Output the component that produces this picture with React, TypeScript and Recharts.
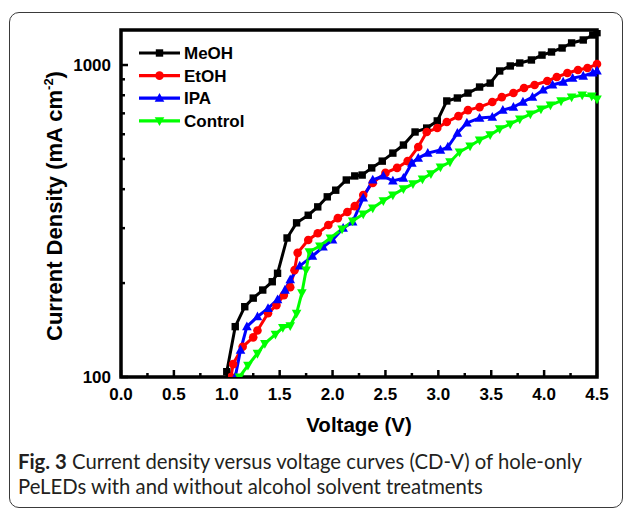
import React from 'react';
import { LineChart, Line, XAxis, YAxis, Legend, ReferenceArea, Customized } from 'recharts';

// ---------- data ----------
const meohV = [1.0, 1.08, 1.17, 1.25, 1.34, 1.43, 1.48, 1.57, 1.66, 1.77, 1.86, 1.95, 2.03, 2.13, 2.21, 2.28, 2.37, 2.47, 2.57, 2.67, 2.78, 2.89, 2.99, 3.08, 3.18, 3.28, 3.39, 3.49, 3.58, 3.68, 3.77, 3.88, 3.98, 4.07, 4.17, 4.26, 4.37, 4.46, 4.5];
const meohJ = [104, 145, 168, 179, 190, 202, 215, 279, 312, 330, 351, 378, 397, 428, 441, 444, 468, 492, 522, 554, 610, 628, 662, 767, 784, 813, 850, 875, 957, 993, 1015, 1038, 1076, 1101, 1134, 1177, 1203, 1248, 1270];

const etohV = [1.04, 1.06, 1.15, 1.25, 1.29, 1.39, 1.47, 1.54, 1.6, 1.64, 1.67, 1.77, 1.86, 1.96, 2.05, 2.14, 2.21, 2.29, 2.38, 2.5, 2.61, 2.71, 2.81, 2.89, 2.99, 3.08, 3.19, 3.28, 3.39, 3.51, 3.6, 3.71, 3.81, 3.91, 4.03, 4.12, 4.22, 4.32, 4.41, 4.5];
const etohJ = [100, 110, 125, 134, 141, 160, 170, 183, 194, 220, 250, 275, 289, 307, 323, 338, 353, 383, 419, 451, 468, 492, 546, 610, 628, 657, 686, 717, 733, 761, 789, 813, 844, 863, 889, 915, 943, 964, 978, 1007];

const ipaV = [1.08, 1.13, 1.19, 1.29, 1.39, 1.48, 1.55, 1.6, 1.69, 1.81, 1.91, 2.0, 2.1, 2.19, 2.29, 2.38, 2.48, 2.57, 2.67, 2.75, 2.81, 2.9, 3.02, 3.09, 3.18, 3.27, 3.39, 3.51, 3.61, 3.71, 3.8, 3.89, 3.99, 4.08, 4.18, 4.27, 4.37, 4.46, 4.5];
const ipaJ = [100, 122, 145, 156, 166, 177, 190, 205, 227, 244, 261, 275, 300, 314, 375, 428, 441, 425, 434, 485, 503, 522, 534, 546, 605, 652, 676, 681, 717, 733, 761, 789, 832, 863, 882, 908, 922, 943, 957];

const controlV = [1.12, 1.2, 1.29, 1.36, 1.46, 1.53, 1.6, 1.66, 1.71, 1.75, 1.78, 1.88, 1.98, 2.09, 2.19, 2.29, 2.38, 2.48, 2.57, 2.67, 2.76, 2.85, 2.93, 3.02, 3.11, 3.2, 3.3, 3.39, 3.49, 3.58, 3.68, 3.77, 3.87, 3.97, 4.06, 4.16, 4.26, 4.36, 4.45, 4.5];
const controlJ = [100, 109, 119, 128, 137, 144, 146, 160, 186, 220, 252, 263, 279, 298, 316, 333, 348, 367, 383, 401, 416, 431, 448, 471, 489, 526, 550, 575, 597, 624, 647, 671, 696, 722, 744, 767, 789, 801, 795, 778];

const seriesNames = ['MeOH', 'EtOH', 'IPA', 'Control'];
const seriesColors = ['#000000', '#ff0000', '#0000ff', '#00ff00'];
const seriesShapes = ['square', 'circle', 'up', 'down'];

const xTicks = [0, 0.25, 0.5, 0.75, 1, 1.25, 1.5, 1.75, 2, 2.25, 2.5, 2.75, 3, 3.25, 3.5, 3.75, 4, 4.25, 4.5];
const yTicks = [100, 200, 300, 400, 500, 600, 700, 800, 900, 1000];
const yLabelTicks = [100, 1000];
const xDomain = [0, 4.5];
const yDomain = [100, 1295];

const xTitle = 'Voltage (V)';
const yTitle = 'Current Density (mA cm';
const captionBold = 'Fig. 3';
const captionLine1 = ' Current density versus voltage curves (CD-V) of hole-only';
const captionLine2 = 'PeLEDs with and without alcohol solvent treatments';

const zip = (v: number[], j: number[]) => v.map((x, i) => ({ v: x, j: j[i] }));
const seriesData = [zip(meohV, meohJ), zip(etohV, etohJ), zip(ipaV, ipaJ), zip(controlV, controlJ)];

// ---------- layout ----------
const W = 629;
const H = 508;
const PLOT_LEFT = 121;
const PLOT_RIGHT = 597;
const PLOT_TOP = 30;
const PLOT_BOTTOM = 377;
const FONT = '"Liberation Sans", Arial, sans-serif';

function Marker({ kind, cx, cy, color }: { kind: string; cx: number; cy: number; color: string }) {
  if (kind === 'square') return <rect x={cx - 3.7} y={cy - 3.7} width={7.4} height={7.4} fill={color} />;
  if (kind === 'circle') return <circle cx={cx} cy={cy} r={4.3} fill={color} />;
  if (kind === 'up')
    return <polygon points={`${cx},${cy - 5.2} ${cx + 4.8},${cy + 3.6} ${cx - 4.8},${cy + 3.6}`} fill={color} />;
  return <polygon points={`${cx},${cy + 5.2} ${cx + 4.8},${cy - 3.6} ${cx - 4.8},${cy - 3.6}`} fill={color} />;
}

const makeDot = (kind: string, color: string) => (props: any) => {
  const { cx, cy, index } = props;
  if (cx == null || cy == null || isNaN(cx) || isNaN(cy)) return <g key={`d-${index}`} />;
  return (
    <g key={`d-${index}`}>
      <Marker kind={kind} cx={cx} cy={cy} color={color} />
    </g>
  );
};

const YTick = (props: any) => {
  const { x, y, payload } = props;
  const v = payload.value;
  const major = yLabelTicks.includes(v);
  return (
    <g>
      <line x1={x} x2={x + (major ? 7 : 4)} y1={y} y2={y} stroke="#000" strokeWidth={2.5} />
      {major && (
        <text x={x - 10} y={y} dy="0.36em" textAnchor="end" fontFamily={FONT} fontWeight="bold" fontSize={17} fill="#000">
          {v}
        </text>
      )}
    </g>
  );
};

const XTick = (props: any) => {
  const { x, y, payload } = props;
  const v = payload.value;
  const major = Math.abs(v * 2 - Math.round(v * 2)) < 1e-6;
  return (
    <g>
      <line x1={x} x2={x} y1={y} y2={y - (major ? 7 : 4)} stroke="#000" strokeWidth={2.5} />
      {major && (
        <text x={x} y={y + 23} textAnchor="middle" fontFamily={FONT} fontWeight="bold" fontSize={17} fill="#000">
          {v.toFixed(1)}
        </text>
      )}
    </g>
  );
};

const LegendContent = (props: any) => {
  const payload = [...(props.payload || [])].sort(
    (a: any, b: any) => seriesNames.indexOf(a.value) - seriesNames.indexOf(b.value)
  );
  return (
    <svg width={130} height={95} style={{ display: 'block' }}>
      {payload.map((p: any, i: number) => {
        const idx = seriesNames.indexOf(p.value);
        const cy = 11 + i * 22.6;
        return (
          <g key={p.value}>
            <line x1={3} x2={44} y1={cy} y2={cy} stroke={seriesColors[idx]} strokeWidth={3.2} />
            <Marker kind={seriesShapes[idx]} cx={23.5} cy={cy} color={seriesColors[idx]} />
            <text x={48} y={cy} dy="0.36em" fontFamily={FONT} fontWeight="bold" fontSize={17} fill="#000">
              {p.value}
            </text>
          </g>
        );
      })}
    </svg>
  );
};

const Titles = () => {
  const cx = (PLOT_LEFT + PLOT_RIGHT) / 2;
  const cy = 206;
  return (
    <g>
      <text x={cx} y={432} textAnchor="middle" fontFamily={FONT} fontWeight="bold" fontSize={20.5} fill="#000">
        {xTitle}
      </text>
      <text
        transform={`translate(62, ${cy}) rotate(-90)`}
        textAnchor="middle"
        fontFamily={FONT}
        fontWeight="bold"
        fontSize={22}
        fill="#000"
      >
        {yTitle}
        <tspan fontSize={13} dy={-9}>-2</tspan>
        <tspan dy={9}>)</tspan>
      </text>
    </g>
  );
};

export default function App() {
  return (
    <div style={{ position: 'absolute', left: 0, top: 0, width: W, height: H, background: '#fff', overflow: 'hidden' }}>
      <div
        style={{
          position: 'absolute',
          left: 9,
          top: 12,
          width: 612,
          height: 494,
          border: '1px solid #3a3a3a',
          borderRadius: 10,
        }}
      />
      <div style={{ position: 'absolute', left: 0, top: 0 }}>
        <LineChart
          width={W}
          height={H}
          margin={{ top: PLOT_TOP, right: W - PLOT_RIGHT, left: 0, bottom: H - PLOT_BOTTOM - 30 }}
        >
          <XAxis
            dataKey="v"
            type="number"
            domain={xDomain}
            ticks={xTicks}
            interval={0}
            allowDuplicatedCategory={false}
            height={30}
            tickSize={0}
            tickMargin={0}
            tickLine={false}
            axisLine={false}
            tick={<XTick />}
          />
          <YAxis
            type="number"
            scale="log"
            domain={yDomain}
            allowDataOverflow
            ticks={yTicks}
            interval={0}
            width={PLOT_LEFT}
            tickSize={0}
            tickMargin={0}
            tickLine={false}
            axisLine={false}
            tick={<YTick />}
          />
          <ReferenceArea
            x1={xDomain[0]}
            x2={xDomain[1]}
            y1={yDomain[0]}
            y2={yDomain[1]}
            fill="none"
            fillOpacity={0}
            stroke="#000"
            strokeWidth={3.5}
            ifOverflow="visible"
          />
          {seriesNames.map((name, i) => (
            <Line
              key={name}
              name={name}
              data={seriesData[i]}
              dataKey="j"
              type="linear"
              stroke={seriesColors[i]}
              strokeWidth={3}
              dot={makeDot(seriesShapes[i], seriesColors[i])}
              activeDot={false}
              isAnimationActive={false}
            />
          ))}
          <Legend
            layout="vertical"
            align="center"
            verticalAlign="middle"
            content={<LegendContent />}
            wrapperStyle={{ position: 'absolute', left: 136, top: 42, width: 130, height: 95 }}
          />
          <Customized component={<Titles />} />
        </LineChart>
      </div>
      <div
        style={{
          position: 'absolute',
          left: 18,
          top: 449,
          fontFamily: 'Lato, sans-serif',
          fontSize: 20.3,
          lineHeight: '25px',
          color: '#231f20',
          whiteSpace: 'nowrap',
        }}
      >
        <div>
          <b>{captionBold}</b>
          {captionLine1}
        </div>
        <div>{captionLine2}</div>
      </div>
    </div>
  );
}
